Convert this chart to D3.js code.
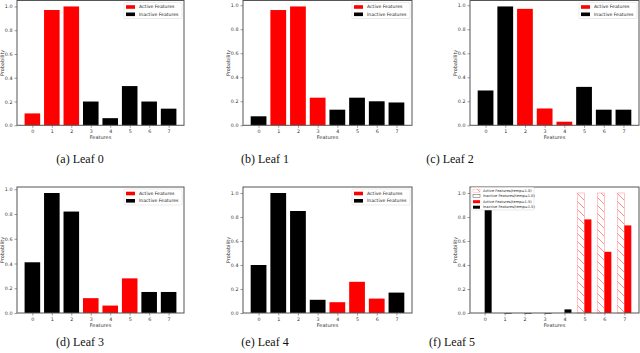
<!DOCTYPE html>
<html><head><meta charset="utf-8">
<script src="https://cdn.jsdelivr.net/npm/d3@7"></script>
<style>body{margin:0;background:#fff}svg{display:block}</style>
</head><body><svg id="c" width="640" height="353"></svg>
<script>
// ---------- data ----------
const features = [0, 1, 2, 3, 4, 5, 6, 7];
const yTicks = [0.0, 0.2, 0.4, 0.6, 0.8, 1.0];
const leaf0 = [0.10, 0.97, 1.00, 0.20, 0.06, 0.33, 0.20, 0.14];
const leaf1 = [0.075, 0.96, 0.99, 0.23, 0.13, 0.23, 0.20, 0.19];
const leaf2 = [0.29, 0.99, 0.97, 0.14, 0.03, 0.32, 0.13, 0.13];
const leaf3 = [0.41, 0.97, 0.82, 0.12, 0.06, 0.28, 0.17, 0.17];
const leaf4 = [0.40, 1.00, 0.85, 0.11, 0.09, 0.26, 0.12, 0.17];
const active0 = [0, 1, 2];
const active1 = [1, 2, 3];
const active2 = [2, 3, 4];
const active3 = [3, 4, 5];
const active4 = [4, 5, 6];
const active5 = [5, 6, 7];
const leaf5Before = [0, 0, 0, 0, 0, 1.00, 1.00, 1.00];
const leaf5After = [0.87, 0, 0, 0, 0.03, 0.78, 0.51, 0.73];
const legendLabels = ["Active Features", "Inactive Features"];
const leaf5Legend = ["Active Features(temp=1.0)", "Inactive Features(temp=1.0)",
                     "Active Features(temp=1.5)", "Inactive Features(temp=1.5)"];
const captions = ["(a) Leaf 0", "(b) Leaf 1", "(c) Leaf 2", "(d) Leaf 3", "(e) Leaf 4", "(f) Leaf 5"];
const xLabel = "Features";
const yLabel = "Probability";

// ---------- layout ----------
const frames = [
  {l: 17,  r: 184, t: 0.5, b: 125.3, cx: 80,  cy: 163, ylx: 3},
  {l: 243, r: 412, t: 0.5, b: 125.3, cx: 265, cy: 163, ylx: 229},
  {l: 470, r: 639, t: 0.5, b: 125.3, cx: 450, cy: 163, ylx: 456},
  {l: 17,  r: 184, t: 187, b: 313, cx: 80,  cy: 346, ylx: 3},
  {l: 243, r: 412, t: 187, b: 313, cx: 265, cy: 346, ylx: 229},
  {l: 470, r: 639, t: 187, b: 313, cx: 452, cy: 346, ylx: 456}
];
const RED = "#ff0000", BLACK = "#000000";
const FONT = "DejaVu Sans, sans-serif";

const svg = d3.select("#c");
const defs = svg.append("defs");
const pat = defs.append("pattern").attr("id", "hatch").attr("patternUnits", "userSpaceOnUse")
  .attr("width", 8).attr("height", 8);
pat.append("rect").attr("width", 8).attr("height", 8).attr("fill", "#fff");
pat.append("path").attr("d", "M0,0L8,8M-2,6L2,10M6,-2L10,2")
  .attr("stroke", "#ff7070").attr("stroke-width", 0.8);

function drawAxes(g, f, x, y) {
  const ya = g.append("g").attr("transform", `translate(${f.l},0)`)
    .call(d3.axisLeft(y).tickValues(yTicks).tickFormat(d3.format(".1f")).tickSize(2.5).tickPadding(2));
  const xa = g.append("g").attr("transform", `translate(0,${f.b})`)
    .call(d3.axisBottom(x).tickValues(features).tickFormat(d3.format("d")).tickSize(2.5).tickPadding(2));
  [ya, xa].forEach(a => {
    a.select(".domain").remove();
    a.selectAll("line").attr("stroke", "#555").attr("stroke-width", 0.6);
    a.selectAll("text").attr("font-family", FONT).attr("font-size", 4.8).attr("fill", "#333");
  });
  g.append("rect").attr("x", f.l).attr("y", f.t).attr("width", f.r - f.l).attr("height", f.b - f.t)
    .attr("fill", "none").attr("stroke", "#555").attr("stroke-width", 1);
  g.append("text").attr("x", (f.l + f.r) / 2).attr("y", f.b + 14).attr("text-anchor", "middle")
    .attr("font-family", FONT).attr("font-size", 5).attr("fill", "#333").text(xLabel);
  g.append("text").attr("transform", `translate(${f.ylx},${(f.t + f.b) / 2}) rotate(-90)`)
    .attr("text-anchor", "middle").attr("dominant-baseline", "middle")
    .attr("font-family", FONT).attr("font-size", 5).attr("fill", "#333").text(yLabel);
  g.append("text").attr("x", f.cx).attr("y", f.cy).attr("text-anchor", "middle")
    .attr("font-family", "Liberation Serif, Times New Roman, serif").attr("font-size", 12)
    .attr("fill", "#111").text(f.caption);
}

const simple = [[leaf0, active0], [leaf1, active1], [leaf2, active2], [leaf3, active3], [leaf4, active4]];
simple.forEach(([vals, act], i) => {
  const f = Object.assign({}, frames[i], {caption: captions[i]});
  const g = svg.append("g");
  const w = 0.8;
  const lo = -w / 2, hi = features.length - 1 + w / 2, m = (hi - lo) * 0.05;
  const x = d3.scaleLinear().domain([lo - m, hi + m]).range([f.l, f.r]);
  const y = d3.scaleLinear().domain([0, d3.max(vals) * 1.05]).range([f.b, f.t]);
  g.selectAll("rect.bar").data(features).enter().append("rect").attr("class", "bar")
    .attr("x", d => x(d - w / 2)).attr("width", d => x(d + w / 2) - x(d - w / 2))
    .attr("y", d => y(vals[d])).attr("height", d => y(0) - y(vals[d]))
    .attr("fill", d => act.includes(d) ? RED : BLACK);
  drawAxes(g, f, x, y);
  // legend
  const lw = 58, lh = 16, lx = f.r - 2 - lw, ly = f.t + 2;
  const lg = g.append("g");
  lg.append("rect").attr("x", lx).attr("y", ly).attr("width", lw).attr("height", lh)
    .attr("fill", "#fff").attr("stroke", "#ddd").attr("stroke-width", 0.6).attr("rx", 1);
  legendLabels.forEach((t, k) => {
    const cy = ly + 4.5 + k * 7.3;
    lg.append("rect").attr("x", lx + 2).attr("y", cy - 1.8).attr("width", 9).attr("height", 3.6)
      .attr("fill", k === 0 ? RED : BLACK);
    lg.append("text").attr("x", lx + 15).attr("y", cy).attr("dominant-baseline", "middle")
      .attr("font-family", FONT).attr("font-size", 4.6).attr("fill", "#222").text(t);
  });
});

// ---------- Leaf 5 (grouped) ----------
(function () {
  const f = Object.assign({}, frames[5], {caption: captions[5]});
  const g = svg.append("g");
  const w = 0.35;
  const lo = -w, hi = features.length - 1 + w, m = (hi - lo) * 0.05;
  const x = d3.scaleLinear().domain([lo - m, hi + m]).range([f.l, f.r]);
  const y = d3.scaleLinear().domain([0, d3.max(leaf5Before.concat(leaf5After)) * 1.05]).range([f.b, f.t]);
  g.selectAll("rect.before").data(features).enter().append("rect").attr("class", "before")
    .attr("x", d => x(d - w)).attr("width", d => x(d) - x(d - w))
    .attr("y", d => y(leaf5Before[d])).attr("height", d => y(0) - y(leaf5Before[d]))
    .attr("fill", d => active5.includes(d) ? "url(#hatch)" : "#fff")
    .attr("stroke", d => active5.includes(d) ? "#ffaaaa" : "#888").attr("stroke-width", 0.7);
  g.selectAll("rect.after").data(features).enter().append("rect").attr("class", "after")
    .attr("x", d => x(d)).attr("width", d => x(d + w) - x(d))
    .attr("y", d => y(leaf5After[d])).attr("height", d => Math.max(0.6, y(0) - y(leaf5After[d])))
    .attr("fill", d => active5.includes(d) ? RED : BLACK);
  drawAxes(g, f, x, y);
  const lx = f.l + 1, ly = f.t + 0.5, lw = 63, lh = 22.5;
  const lg = g.append("g");
  lg.append("rect").attr("x", lx).attr("y", ly).attr("width", lw).attr("height", lh)
    .attr("fill", "#fff").attr("stroke", "#ddd").attr("stroke-width", 0.6).attr("rx", 1);
  const sw = [
    {fill: "url(#hatch)", stroke: "#ffaaaa"},
    {fill: "#fff", stroke: "#555"},
    {fill: RED, stroke: "none"},
    {fill: BLACK, stroke: "none"}
  ];
  leaf5Legend.forEach((t, k) => {
    const cy = ly + 3.2 + k * 5.5;
    lg.append("rect").attr("x", lx + 2).attr("y", cy - 1.5).attr("width", 7).attr("height", 3)
      .attr("fill", sw[k].fill).attr("stroke", sw[k].stroke).attr("stroke-width", 0.5);
    lg.append("text").attr("x", lx + 12).attr("y", cy).attr("dominant-baseline", "middle")
      .attr("font-family", FONT).attr("font-size", 3.6).attr("fill", "#222").text(t);
  });
})();
</script>
</body></html>
